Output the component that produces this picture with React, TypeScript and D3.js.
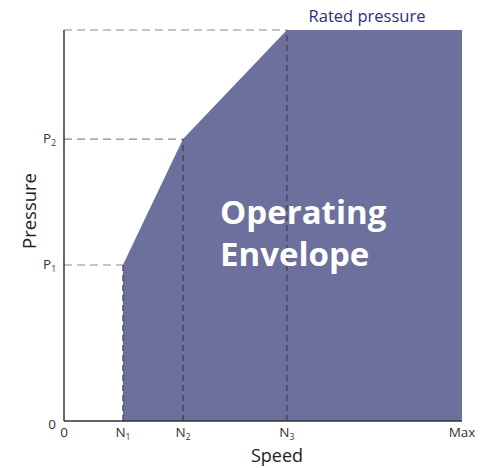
import React from "react";
import * as d3 from "d3";

const speedLabels = ["0", "N1", "N2", "N3", "Max"];
const speedValues = [0, 0.148, 0.299, 0.56, 1];
const pressureLabels = ["0", "P1", "P2"];
const pressureValues = [0, 0.399, 0.721];
const ratedPressure = 1;
// envelope boundary: speed, pressure
const envSpeed = [0.148, 0.148, 0.299, 0.56, 1, 1];
const envPressure = [0, 0.399, 0.721, 1, 1, 0];

const W = 486, H = 468;
const x = d3.scaleLinear().domain([0, 1]).range([64, 462]);
const y = d3.scaleLinear().domain([0, 1]).range([421, 30]);
const font = "'Open Sans', 'Noto Sans', sans-serif";

function Sub({ label }: { label: string }) {
  if (label.length === 2 && /[NP]\d/.test(label)) {
    return (
      <>
        {label[0]}
        <tspan fontSize={8.5} dy={3}>{label[1]}</tspan>
      </>
    );
  }
  return <>{label}</>;
}

export default function App() {
  const pts = envSpeed.map((s, i) => [x(s), y(envPressure[i])] as [number, number]);
  const area = d3.line()(pts) + "Z";
  return (
    <svg width={W} height={H} style={{ position: "absolute", left: 0, top: 0 }}>
      <rect width={W} height={H} fill="#fff" />
      <path d={area} fill="#6d6f9c" />
      {[pressureValues[1], pressureValues[2], ratedPressure].map((p, i) => {
        const sx = [envSpeed[1], envSpeed[2], envSpeed[3]][i];
        return (
          <line key={i} x1={x(0)} x2={x(sx)} y1={y(p)} y2={y(p)} stroke="#8a8a8a" strokeWidth={1.2} strokeDasharray="8,5" />
        );
      })}
      {[1, 2, 3].map((i) => (
        <line key={i} x1={x(speedValues[i])} x2={x(speedValues[i])} y1={y(0)} y2={y([pressureValues[1], pressureValues[2], ratedPressure][i - 1])}
          stroke="#333" strokeWidth={1} strokeDasharray="6,4" />
      ))}
      <line x1={x(0)} x2={x(0)} y1={y(ratedPressure)} y2={y(0)} stroke="#333" strokeWidth={1.5} />
      <line x1={x(0)} x2={x(1)} y1={y(0)} y2={y(0)} stroke="#333" strokeWidth={1.5} />
      {speedLabels.map((l, i) => (
        <text key={l} x={x(speedValues[i])} y={y(0) + 16} textAnchor="middle" fontFamily={font} fontSize={13.5} fill="#333">
          <Sub label={l} />
        </text>
      ))}
      {pressureLabels.map((l, i) => (
        <text key={l} x={x(0) - 8} y={y(pressureValues[i]) + (i === 0 ? 8 : 4)} textAnchor="end" fontFamily={font} fontSize={13.5} fill="#333">
          <Sub label={l} />
        </text>
      ))}
      <text x={367} y={22} textAnchor="middle" fontFamily={font} fontSize={16.5} fill="#27317a">Rated pressure</text>
      <text x={277} y={462} textAnchor="middle" fontFamily={font} fontSize={18} fill="#222">Speed</text>
      <text transform="translate(36,211) rotate(-90)" textAnchor="middle" fontFamily={font} fontSize={18.5} fill="#222">Pressure</text>
      <text x={220} y={224} fontFamily={font} fontSize={33} fontWeight="bold" fill="#fff">Operating</text>
      <text x={220} y={266} fontFamily={font} fontSize={33} fontWeight="bold" fill="#fff">Envelope</text>
    </svg>
  );
}
